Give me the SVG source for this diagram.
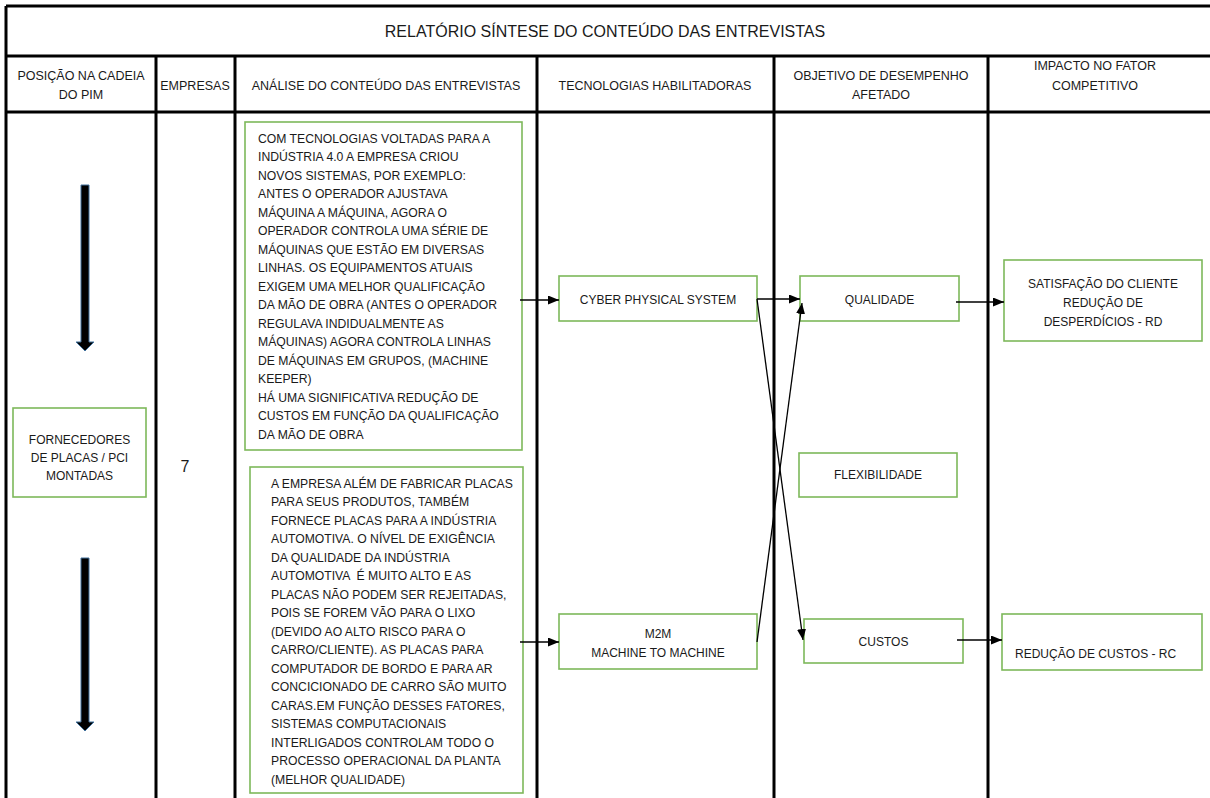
<svg xmlns="http://www.w3.org/2000/svg" width="1210" height="798" viewBox="0 0 1210 798">
  <style>
    text { font-family: "Liberation Sans", Arial, sans-serif; fill: #1a1a1a; }
    .title { font-size: 16px; text-anchor: middle; }
    .head { font-size: 12.5px; text-anchor: middle; }
    .body { font-size: 12.2px; white-space: pre; }
    .lbl { font-size: 12px; text-anchor: middle; }
    .grid { stroke: #000; stroke-width: 3; fill: none; }
    .box { fill: #fff; stroke: #7DB85A; stroke-width: 1.6; }
    .conn { stroke: #000; stroke-width: 1.3; fill: none; marker-end: url(#tip); }
    .flow { fill: #000; stroke: #41719C; stroke-width: 1; }
  </style>
  <defs>
    <marker id="tip" markerUnits="userSpaceOnUse" markerWidth="12" markerHeight="10" refX="11" refY="4.5" orient="auto">
      <path d="M0,0 L11,4.5 L0,9 z" fill="#000"/>
    </marker>
  </defs>

  <rect x="0" y="0" width="1210" height="798" fill="#fff"/>

  <!-- table grid -->
  <g id="table">
    <path class="grid" d="M6,6 H1210 M6,56 H1210 M6,112 H1210 M6,6 V798"/>
    <path class="grid" d="M156,56 V798 M235,56 V798 M537,56 V798 M774,56 V798 M988,56 V798"/>
    <text class="title" x="605" y="37">RELATÓRIO SÍNTESE DO CONTEÚDO DAS ENTREVISTAS</text>
    <text class="head" x="81" y="79.5">POSIÇÃO NA CADEIA</text>
    <text class="head" x="81" y="98.5">DO PIM</text>
    <text class="head" x="195" y="90">EMPRESAS</text>
    <text class="head" x="386" y="90">ANÁLISE DO CONTEÚDO DAS ENTREVISTAS</text>
    <text class="head" x="655" y="90">TECNOLOGIAS HABILITADORAS</text>
    <text class="head" x="881" y="79.5">OBJETIVO DE DESEMPENHO</text>
    <text class="head" x="881" y="98.5">AFETADO</text>
    <text class="head" x="1095" y="70">IMPACTO NO FATOR</text>
    <text class="head" x="1095" y="90">COMPETITIVO</text>
  </g>

  <!-- chain position -->
  <g id="chain-arrows">
    <polygon class="flow" points="81,185 89,185 89,342 94,342 85,351 76,342 81,342"/>
    <polygon class="flow" points="81,558 89,558 89,722 94,722 85,731 76,722 81,722"/>
  </g>
  <g id="fornecedores">
    <rect class="box" x="13" y="408" width="133" height="89"/>
    <text class="lbl" x="79.5" y="444">FORNECEDORES</text>
    <text class="lbl" x="79.5" y="462">DE PLACAS / PCI</text>
    <text class="lbl" x="79.5" y="480">MONTADAS</text>
  </g>
  <g id="empresas">
    <text x="185" y="472" style="font-size:16px" text-anchor="middle">7</text>
  </g>

  <!-- interview analysis -->
  <g id="analise-1">
    <rect class="box" x="245" y="122" width="277" height="328"/>
    <text class="body" x="258" y="142.5">COM TECNOLOGIAS VOLTADAS PARA A</text>
    <text class="body" x="258" y="161">INDÚSTRIA 4.0 A EMPRESA CRIOU</text>
    <text class="body" x="258" y="179.5">NOVOS SISTEMAS, POR EXEMPLO:</text>
    <text class="body" x="258" y="198">ANTES O OPERADOR AJUSTAVA</text>
    <text class="body" x="258" y="216.5">MÁQUINA A MÁQUINA, AGORA O</text>
    <text class="body" x="258" y="235">OPERADOR CONTROLA UMA SÉRIE DE</text>
    <text class="body" x="258" y="253.5">MÁQUINAS QUE ESTÃO EM DIVERSAS</text>
    <text class="body" x="258" y="272">LINHAS. OS EQUIPAMENTOS ATUAIS</text>
    <text class="body" x="258" y="290.5">EXIGEM UMA MELHOR QUALIFICAÇÃO</text>
    <text class="body" x="258" y="309">DA MÃO DE OBRA (ANTES O OPERADOR</text>
    <text class="body" x="258" y="327.5">REGULAVA INDIDUALMENTE AS</text>
    <text class="body" x="258" y="346">MÁQUINAS) AGORA CONTROLA LINHAS</text>
    <text class="body" x="258" y="364.5">DE MÁQUINAS EM GRUPOS, (MACHINE</text>
    <text class="body" x="258" y="383">KEEPER)</text>
    <text class="body" x="258" y="401.5">HÁ UMA SIGNIFICATIVA REDUÇÃO DE</text>
    <text class="body" x="258" y="420">CUSTOS EM FUNÇÃO DA QUALIFICAÇÃO</text>
    <text class="body" x="258" y="438.5">DA MÃO DE OBRA</text>
  </g>
  <g id="analise-2">
    <rect class="box" x="250" y="467" width="273" height="326"/>
    <text class="body" x="271" y="487.5">A EMPRESA ALÉM DE FABRICAR PLACAS</text>
    <text class="body" x="271" y="506">PARA SEUS PRODUTOS, TAMBÉM</text>
    <text class="body" x="271" y="524.5">FORNECE PLACAS PARA A INDÚSTRIA</text>
    <text class="body" x="271" y="543">AUTOMOTIVA. O NÍVEL DE EXIGÊNCIA</text>
    <text class="body" x="271" y="561.5">DA QUALIDADE DA INDÚSTRIA</text>
    <text class="body" x="271" y="580">AUTOMOTIVA  É MUITO ALTO E AS</text>
    <text class="body" x="271" y="598.5">PLACAS NÃO PODEM SER REJEITADAS,</text>
    <text class="body" x="271" y="617">POIS SE FOREM VÃO PARA O LIXO</text>
    <text class="body" x="271" y="635.5">(DEVIDO AO ALTO RISCO PARA O</text>
    <text class="body" x="271" y="654">CARRO/CLIENTE). AS PLACAS PARA</text>
    <text class="body" x="271" y="672.5">COMPUTADOR DE BORDO E PARA AR</text>
    <text class="body" x="271" y="691">CONCICIONADO DE CARRO SÃO MUITO</text>
    <text class="body" x="271" y="709.5">CARAS.EM FUNÇÃO DESSES FATORES,</text>
    <text class="body" x="271" y="728">SISTEMAS COMPUTACIONAIS</text>
    <text class="body" x="271" y="746.5">INTERLIGADOS CONTROLAM TODO O</text>
    <text class="body" x="271" y="765">PROCESSO OPERACIONAL DA PLANTA</text>
    <text class="body" x="271" y="783.5">(MELHOR QUALIDADE)</text>
  </g>

  <!-- enabling technologies -->
  <g id="cps">
    <rect class="box" x="559" y="276" width="198" height="45"/>
    <text class="lbl" x="658" y="303.5">CYBER PHYSICAL SYSTEM</text>
  </g>
  <g id="m2m">
    <rect class="box" x="559" y="614" width="198" height="55"/>
    <text class="lbl" x="658" y="637.5">M2M</text>
    <text class="lbl" x="658" y="656.5">MACHINE TO MACHINE</text>
  </g>

  <!-- performance objectives -->
  <g id="qualidade">
    <rect class="box" x="800" y="276" width="159" height="45"/>
    <text class="lbl" x="879.5" y="303.5">QUALIDADE</text>
  </g>
  <g id="flexibilidade">
    <rect class="box" x="799" y="453" width="158" height="44"/>
    <text class="lbl" x="878" y="479">FLEXIBILIDADE</text>
  </g>
  <g id="custos">
    <rect class="box" x="804" y="619" width="159" height="44"/>
    <text class="lbl" x="883.5" y="645.5">CUSTOS</text>
  </g>

  <!-- competitive impact -->
  <g id="satisfacao">
    <rect class="box" x="1004" y="260" width="198" height="81"/>
    <text class="lbl" x="1103" y="287.5">SATISFAÇÃO DO CLIENTE</text>
    <text class="lbl" x="1103" y="306.5">REDUÇÃO DE</text>
    <text class="lbl" x="1103" y="325.5">DESPERDÍCIOS - RD</text>
  </g>
  <g id="reducao-custos">
    <rect class="box" x="1002" y="614" width="200" height="56"/>
    <text x="1015" y="657.5" style="font-size:12px">REDUÇÃO DE CUSTOS - RC</text>
  </g>

  <!-- connectors -->
  <g id="connectors">
    <path class="conn" d="M520,300 L559,300"/>
    <path class="conn" d="M520,642 L559,642"/>
    <path class="conn" d="M757,299 L800,299"/>
    <path class="conn" d="M757,299 L803,640"/>
    <path class="conn" d="M757,642 L802,303"/>
    <path class="conn" d="M956,302 L1004,302"/>
    <path class="conn" d="M957,640 L1002,640"/>
  </g>
</svg>
